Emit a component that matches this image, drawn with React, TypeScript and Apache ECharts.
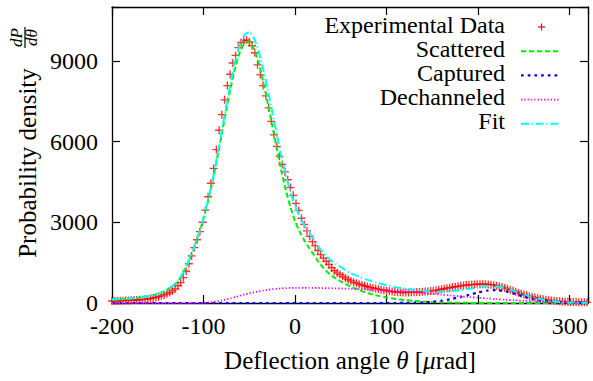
import React, { useEffect, useRef } from 'react';
import * as echarts from 'echarts';

const FONT = 'Liberation Serif';

// Experimental data (deflection angle in µrad, probability density)
const expAngles = [
  -200, -197, -194, -191, -188, -185, -182, -179, -176, -173,
  -170, -167, -164, -161, -158, -155, -152, -149, -146, -143,
  -140, -137, -134, -131, -128, -125, -122, -119, -116, -113,
  -110, -107, -104, -101, -98, -95, -92, -89, -86, -83,
  -80, -77, -74, -71, -68, -65, -62, -59, -56, -53,
  -50, -47, -44, -41, -38, -35, -32, -29, -26, -23,
  -20, -17, -14, -11, -8, -5, -2, 1, 4, 7,
  10, 13, 16, 19, 22, 25, 28, 31, 34, 37,
  40, 43, 46, 49, 52, 55, 58, 61, 64, 67,
  70, 73, 76, 79, 82, 85, 88, 91, 94, 97,
  100, 103, 106, 109, 112, 115, 118, 121, 124, 127,
  130, 133, 136, 139, 142, 145, 148, 151, 154, 157,
  160, 163, 166, 169, 172, 175, 178, 181, 184, 187,
  190, 193, 196, 199, 202, 205, 208, 211, 214, 217,
  220, 223, 226, 229, 232, 235, 238, 241, 244, 247,
  250, 253, 256, 259, 262, 265, 268, 271, 274, 277,
  280, 283, 286, 289, 292, 295, 298, 301, 304, 307,
  310, 313, 316, 319,
];
const expValues = [
  75, 78, 80, 84, 88, 92, 97, 102, 107, 112,
  118, 125, 135, 150, 165, 185, 205, 235, 265, 300,
  340, 390, 450, 520, 640, 760, 940, 1180, 1460, 1750,
  2060, 2350, 2650, 3000, 3450, 3950, 4450, 5000, 5700, 6420,
  7000, 7550, 8080, 8500, 8920, 9200, 9490, 9680, 9760, 9770,
  9700, 9560, 9300, 8850, 8480, 8080, 7700, 7250, 6750, 6250,
  5820, 5450, 5150, 4870, 4580, 4290, 4000, 3700, 3440, 3150,
  2920, 2680, 2480, 2280, 2120, 1950, 1800, 1670, 1550, 1430,
  1310, 1200, 1120, 1060, 990, 930, 870, 820, 775, 735,
  700, 670, 640, 610, 580, 560, 535, 515, 495, 475,
  455, 440, 425, 410, 400, 395, 390, 390, 392, 395,
  400, 405, 410, 418, 425, 432, 442, 455, 470, 490,
  510, 530, 550, 570, 590, 605, 620, 638, 652, 665,
  675, 684, 692, 698, 700, 701, 699, 692, 680, 662,
  642, 618, 590, 560, 528, 492, 455, 418, 382, 348,
  315, 285, 255, 228, 203, 180, 160, 140, 122, 106,
  92, 80, 70, 62, 55, 50, 45, 41, 37, 34,
  31, 29, 27, 26,
];

// Model curves
const modelAngles = [
  -200, -190, -180, -170, -160, -150, -140, -130,
  -125, -120, -115, -110, -105, -100, -95, -90, -85, -80, -75, -70,
  -65, -60, -55, -50, -45, -40, -35, -30, -25, -20, -15, -10, -5, 0,
  5, 10, 15, 20, 25, 30, 35, 40, 45, 50,
  60, 70, 80, 90, 100, 110, 120, 130, 140, 150, 160, 170, 180, 190,
  200, 210, 220, 230, 240, 250, 260, 270, 280, 290, 300, 310, 320,
];
const scatteredValues = [
  120, 140, 165, 200, 255, 340, 490, 730,
  960, 1280, 1650, 2080, 2580, 3150, 3800, 4550, 5400, 6300, 7200, 8050,
  8800, 9350, 9650, 9710, 9450, 8950, 8250, 7450, 6600, 5750, 4900, 4180, 3560, 3050,
  2650, 2330, 2060, 1820, 1560, 1340, 1160, 1020, 900, 800,
  620, 480, 365, 275, 205, 150, 108, 76, 52, 35, 22, 14, 8, 5,
  3, 2, 1, 0, 0, 0, 0, 0, 0, 0, 0, 0, 0,
];
const capturedValues = [
  0, 0, 0, 0, 0, 0, 0, 0,
  0, 0, 0, 0, 0, 0, 0, 0, 0, 0, 0, 0,
  0, 0, 0, 0, 0, 0, 0, 0, 0, 0, 0, 0, 0, 0,
  0, 0, 0, 0, 0, 0, 0, 0, 0, 0,
  0, 0, 0, 0, 0, 1, 4, 10, 22, 45, 85, 145, 220, 305,
  390, 460, 478, 430, 340, 240, 150, 85, 42, 18, 7, 2, 1,
];
const dechanneledValues = [
  0, 0, 0, 0, 0, 0, 0, 0,
  0, 0, 1, 2, 4, 8, 20, 40, 68, 100, 138, 180,
  225, 270, 315, 360, 398, 430, 462, 490, 512, 530, 545, 555, 561, 565,
  566, 566, 564, 561, 558, 555, 551, 548, 544, 540,
  530, 518, 505, 490, 472, 452, 430, 405, 375, 345, 312, 280, 250, 222,
  195, 170, 145, 122, 100, 80, 60, 45, 32, 22, 14, 9, 5,
];
const fitValues = [
  130, 150, 172, 205, 262, 350, 500, 745,
  975, 1295, 1665, 2095, 2600, 3170, 3830, 4600, 5480, 6410, 7350, 8240,
  9030, 9630, 9970, 10070, 9850, 9380, 8710, 7940, 7110, 6280, 5450, 4740, 4120, 3615,
  3215, 2895, 2625, 2380, 2120, 1895, 1710, 1565, 1445, 1340,
  1120, 980, 850, 745, 660, 590, 535, 488, 450, 428, 420, 438, 478, 530,
  585, 630, 623, 552, 440, 320, 210, 130, 74, 40, 21, 11, 6,
];

const seriesNames = ['Experimental Data', 'Scattered', 'Captured', 'Dechanneled', 'Fit'];
const seriesColors = ['#ff0000', '#00ee00', '#0000ff', '#ff00ff', '#00ffff'];

const PLUS = 'path://M3,0h1.2v3h3v1.2h-3v3h-1.2v-3h-3v-1.2h3z';

function buildOption() {
  const pair = (xs: number[], ys: number[]) => xs.map((x, i) => [x, ys[i]]);
  const dashes: (number[])[] = [[], [5.3, 2.7], [2.7, 4], [1.3, 2], [8, 2.7, 1.3, 2.7]];
  const widths = [0, 2, 2.2, 1.8, 2];
  const lineVals = [null, scatteredValues, capturedValues, dechanneledValues, fitValues];

  const lineSeries = [1, 2, 3, 4].map((k) => ({
    name: seriesNames[k],
    type: 'line',
    data: pair(modelAngles, lineVals[k] as number[]),
    showSymbol: false,
    symbol: 'none',
    smooth: 0.25,
    lineStyle: { color: seriesColors[k], width: widths[k], type: dashes[k], cap: 'butt' },
    z: 3 + k,
  }));

  const axisLine = { show: true, onZero: false, lineStyle: { color: '#000', width: 1.3 } };
  const axisTick = { show: true, inside: true, length: 8, lineStyle: { color: '#000', width: 1.2 } };
  const labelStyle = { fontFamily: FONT, fontSize: 24, color: '#000', lineHeight: 18 };

  const textStyle = (text: string, size: number, italic: boolean, align: string) => {
    const s: any = { text, fontFamily: FONT, fontSize: size, fill: '#000', align, verticalAlign: 'middle' };
    if (italic) s.fontStyle = 'italic';
    return s;
  };

  const legendEls: any[] = [];
  seriesNames.forEach((name, i) => {
    const ty = 24.5 + 24 * i;
    const sy = 27 + 24.2 * i;
    legendEls.push({ type: 'text', x: 505, y: ty, style: textStyle(name, 24, false, 'right') });
    if (i === 0) {
      legendEls.push({
        type: 'line',
        shape: { x1: 538, y1: sy, x2: 545, y2: sy },
        style: { stroke: seriesColors[0], lineWidth: 1.2 },
      });
      legendEls.push({
        type: 'line',
        shape: { x1: 541.5, y1: sy - 3.5, x2: 541.5, y2: sy + 3.5 },
        style: { stroke: seriesColors[0], lineWidth: 1.2 },
      });
    } else {
      legendEls.push({
        type: 'line',
        shape: { x1: 521, y1: sy, x2: 559, y2: sy },
        style: { stroke: seriesColors[i], lineWidth: widths[i], lineDash: dashes[i] },
      });
    }
  });

  return {
    animation: false,
    textStyle: { fontFamily: FONT },
    grid: { left: 112, right: 5, top: 7, bottom: 78, containLabel: false },
    xAxis: [
      {
        type: 'value', min: -200, max: 320, interval: 100, position: 'bottom',
        axisLine, axisTick, splitLine: { show: false },
        axisLabel: { ...labelStyle, margin: 14, formatter: (v: number) => (v % 100 === 0 ? String(v) : '') },
      },
      {
        type: 'value', min: -200, max: 320, interval: 100, position: 'top',
        axisLine, axisTick, splitLine: { show: false }, axisLabel: { show: false },
      },
    ],
    yAxis: [
      {
        type: 'value', min: 0, max: 11000, interval: 3000, position: 'left',
        axisLine, axisTick, splitLine: { show: false },
        axisLabel: { ...labelStyle, margin: 14, formatter: (v: number) => (v % 3000 === 0 ? String(v) : '') },
      },
      {
        type: 'value', min: 0, max: 11000, interval: 3000, position: 'right',
        axisLine, axisTick, splitLine: { show: false }, axisLabel: { show: false },
      },
    ],
    series: [
      {
        name: seriesNames[0],
        type: 'scatter',
        data: pair(expAngles, expValues),
        symbol: PLUS,
        symbolSize: 8,
        itemStyle: { color: seriesColors[0] },
        clip: false,
        z: 2,
      },
      ...lineSeries,
    ],
    graphic: [
      {
        type: 'text',
        x: 350,
        y: 360,
        style: {
          text: '{n|Deflection angle }{i|θ}{n| [}{i|μ}{n|rad]}',
          rich: {
            n: { fontFamily: FONT, fontSize: 25, fill: '#000' },
            i: { fontFamily: FONT, fontSize: 25, fontStyle: 'italic', fill: '#000' },
          },
          fontFamily: FONT,
          fontSize: 25,
          align: 'center',
          verticalAlign: 'middle',
        },
      },
      { type: 'text', x: 27, y: 163, rotation: Math.PI / 2, style: textStyle('Probability density', 25, false, 'center') },
      { type: 'text', x: 16.5, y: 37.5, rotation: Math.PI / 2, style: textStyle('dP', 17, true, 'center') },
      { type: 'line', shape: { x1: 25, y1: 27, x2: 25, y2: 48 }, style: { stroke: '#000', lineWidth: 1.2 } },
      { type: 'text', x: 31, y: 37.5, rotation: Math.PI / 2, style: textStyle('dθ', 17, true, 'center') },
      ...legendEls,
    ],
  };
}

export default function App() {
  const ref = useRef<HTMLDivElement>(null);

  useEffect(() => {
    if (!ref.current) return;
    document.body.style.margin = '0';
    const chart = echarts.init(ref.current, null, { renderer: 'svg' });
    chart.setOption(buildOption() as any);
    return () => {
      chart.dispose();
    };
  }, []);

  return <div ref={ref} style={{ width: 593, height: 381, background: '#fff' }} />;
}
